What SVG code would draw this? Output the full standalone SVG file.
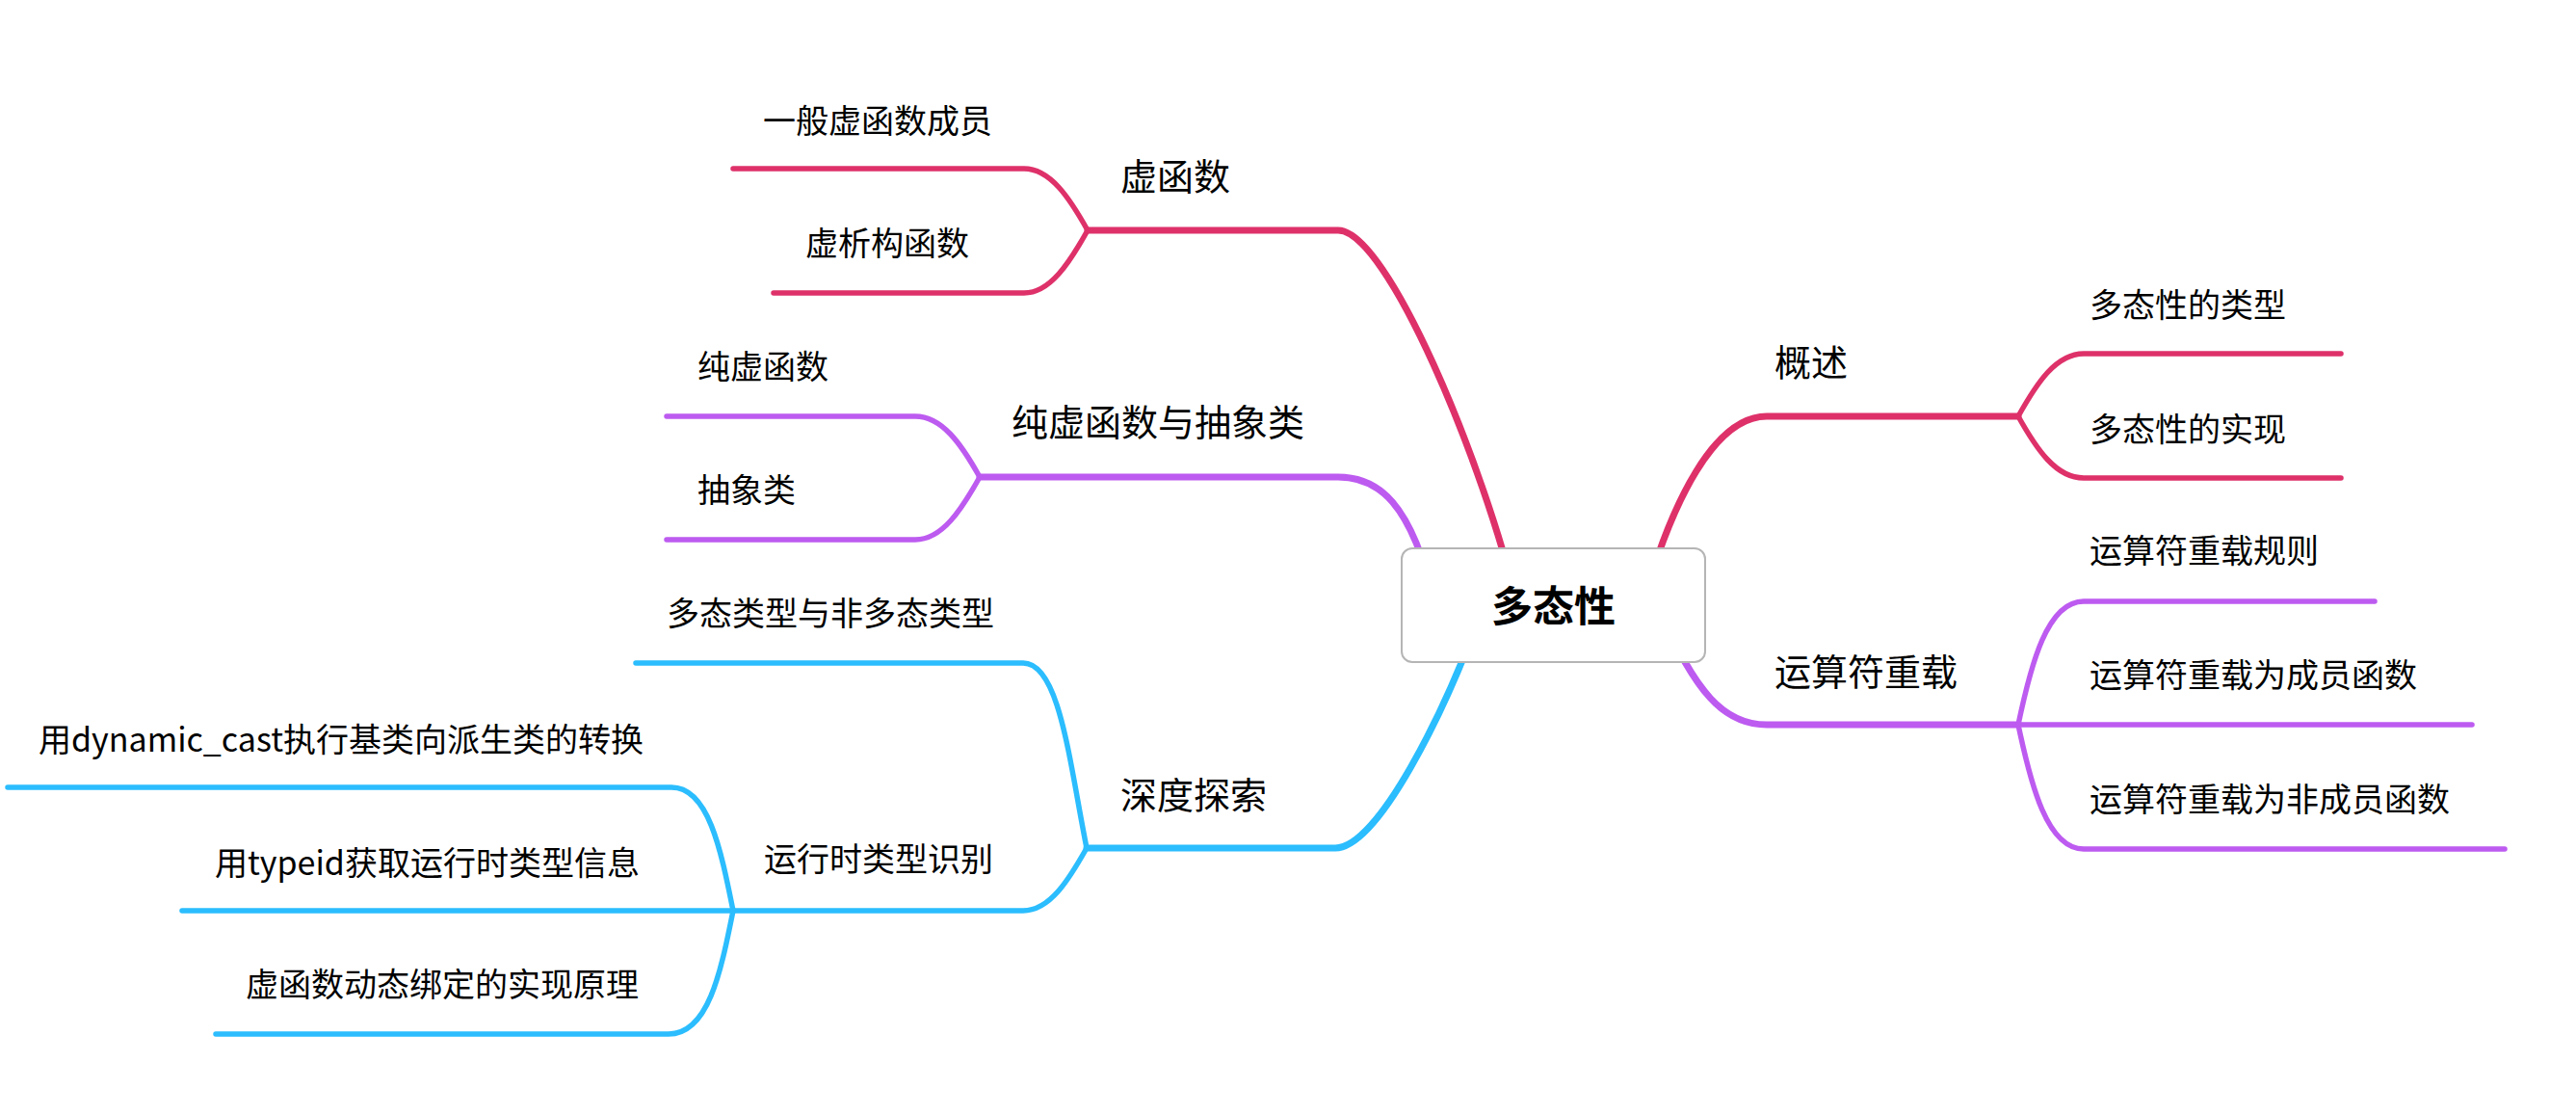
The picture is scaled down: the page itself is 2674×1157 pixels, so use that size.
<svg xmlns="http://www.w3.org/2000/svg" width="2674" height="1157" viewBox="0 0 2674 1157">
<style>
.ln{fill:none;stroke-linecap:round;stroke-linejoin:round}
.main{stroke-width:7}
.sub{stroke-width:5.5}
.red{stroke:#DE316A}
.pur{stroke:#BD5BF0}
.cyn{stroke:#2BBDFE}
text{font-family:"Noto Sans CJK SC","Noto Sans",sans-serif;fill:#000}
.t1{font-size:38px}
.t2{font-size:34px}
.root{font-size:43px;font-weight:bold}
</style>
<rect width="2674" height="1157" fill="#ffffff"/>
<g id="connectors">
<path class="ln main red" d="M1575,628 C1540,480 1440,239 1389,239 H1129"/>
<path class="ln sub red" d="M1129,239 C1110,205 1090,175 1063,175 H761"/>
<path class="ln sub red" d="M1129,239 C1110,273 1090,304 1063,304 H803"/>
<path class="ln main red" d="M1705,628 C1735,520 1780,432 1834,432 H2095"/>
<path class="ln sub red" d="M2095,432 C2114,398 2134,367 2163,367 H2430"/>
<path class="ln sub red" d="M2095,432 C2114,466 2134,496 2163,496 H2430"/>
<path class="ln main pur" d="M1490,628 C1465,520 1430,495 1389,495 H1017"/>
<path class="ln sub pur" d="M1017,495 C998,461 978,432 950,432 H692"/>
<path class="ln sub pur" d="M1017,495 C998,529 978,560 950,560 H692"/>
<path class="ln main pur" d="M1720,628 C1760,720 1790,752 1834,752 H2095"/>
<path class="ln sub pur" d="M2095,752 C2108,690 2125,624 2163,624 H2465"/>
<path class="ln sub pur" d="M2095,752 H2566"/>
<path class="ln sub pur" d="M2095,752 C2108,814 2125,881 2163,881 H2600"/>
<path class="ln main cyn" d="M1540,628 C1500,740 1430,880 1386,880 H1128"/>
<path class="ln sub cyn" d="M1128,880 C1110,790 1100,688 1062,688 H660"/>
<path class="ln sub cyn" d="M1128,880 C1110,912 1090,945 1062,945 H761"/>
<path class="ln sub cyn" d="M761,945 C748,880 735,817 697,817 H8"/>
<path class="ln sub cyn" d="M761,945 H189"/>
<path class="ln sub cyn" d="M761,945 C748,1010 735,1073 694,1073 H224"/>
</g>
<g id="root">
<rect x="1455" y="569" width="315" height="118" rx="11" fill="#ffffff" stroke="#B5B5B5" stroke-width="2"/>
<text class="root" x="1612.5" y="645" text-anchor="middle">多态性</text>
</g>
<g id="n-xuhanshu"><text class="t1" x="1163" y="197">虚函数</text></g>
<g id="n-yiban"><text class="t2" x="792" y="138">一般虚函数成员</text></g>
<g id="n-xixi"><text class="t2" x="836" y="265">虚析构函数</text></g>
<g id="n-chunxu-abs"><text class="t1" x="1050" y="452">纯虚函数与抽象类</text></g>
<g id="n-chunxu"><text class="t2" x="724" y="393">纯虚函数</text></g>
<g id="n-abs"><text class="t2" x="724" y="521">抽象类</text></g>
<g id="n-shendu"><text class="t1" x="1163" y="839">深度探索</text></g>
<g id="n-duotai-type"><text class="t2" x="692" y="649">多态类型与非多态类型</text></g>
<g id="n-rtti"><text class="t2" x="793" y="904">运行时类型识别</text></g>
<g id="n-dyncast"><text class="t2" x="40" y="780">用dynamic_cast执行基类向派生类的转换</text></g>
<g id="n-typeid"><text class="t2" x="223" y="908">用typeid获取运行时类型信息</text></g>
<g id="n-vtbl"><text class="t2" x="255" y="1034">虚函数动态绑定的实现原理</text></g>
<g id="n-gaishu"><text class="t1" x="1842" y="390">概述</text></g>
<g id="n-types"><text class="t2" x="2169" y="329">多态性的类型</text></g>
<g id="n-impl"><text class="t2" x="2169" y="458">多态性的实现</text></g>
<g id="n-op"><text class="t1" x="1842" y="711">运算符重载</text></g>
<g id="n-op-rule"><text class="t2" x="2169" y="584">运算符重载规则</text></g>
<g id="n-op-mem"><text class="t2" x="2169" y="713">运算符重载为成员函数</text></g>
<g id="n-op-nonmem"><text class="t2" x="2169" y="842">运算符重载为非成员函数</text></g>
</svg>
